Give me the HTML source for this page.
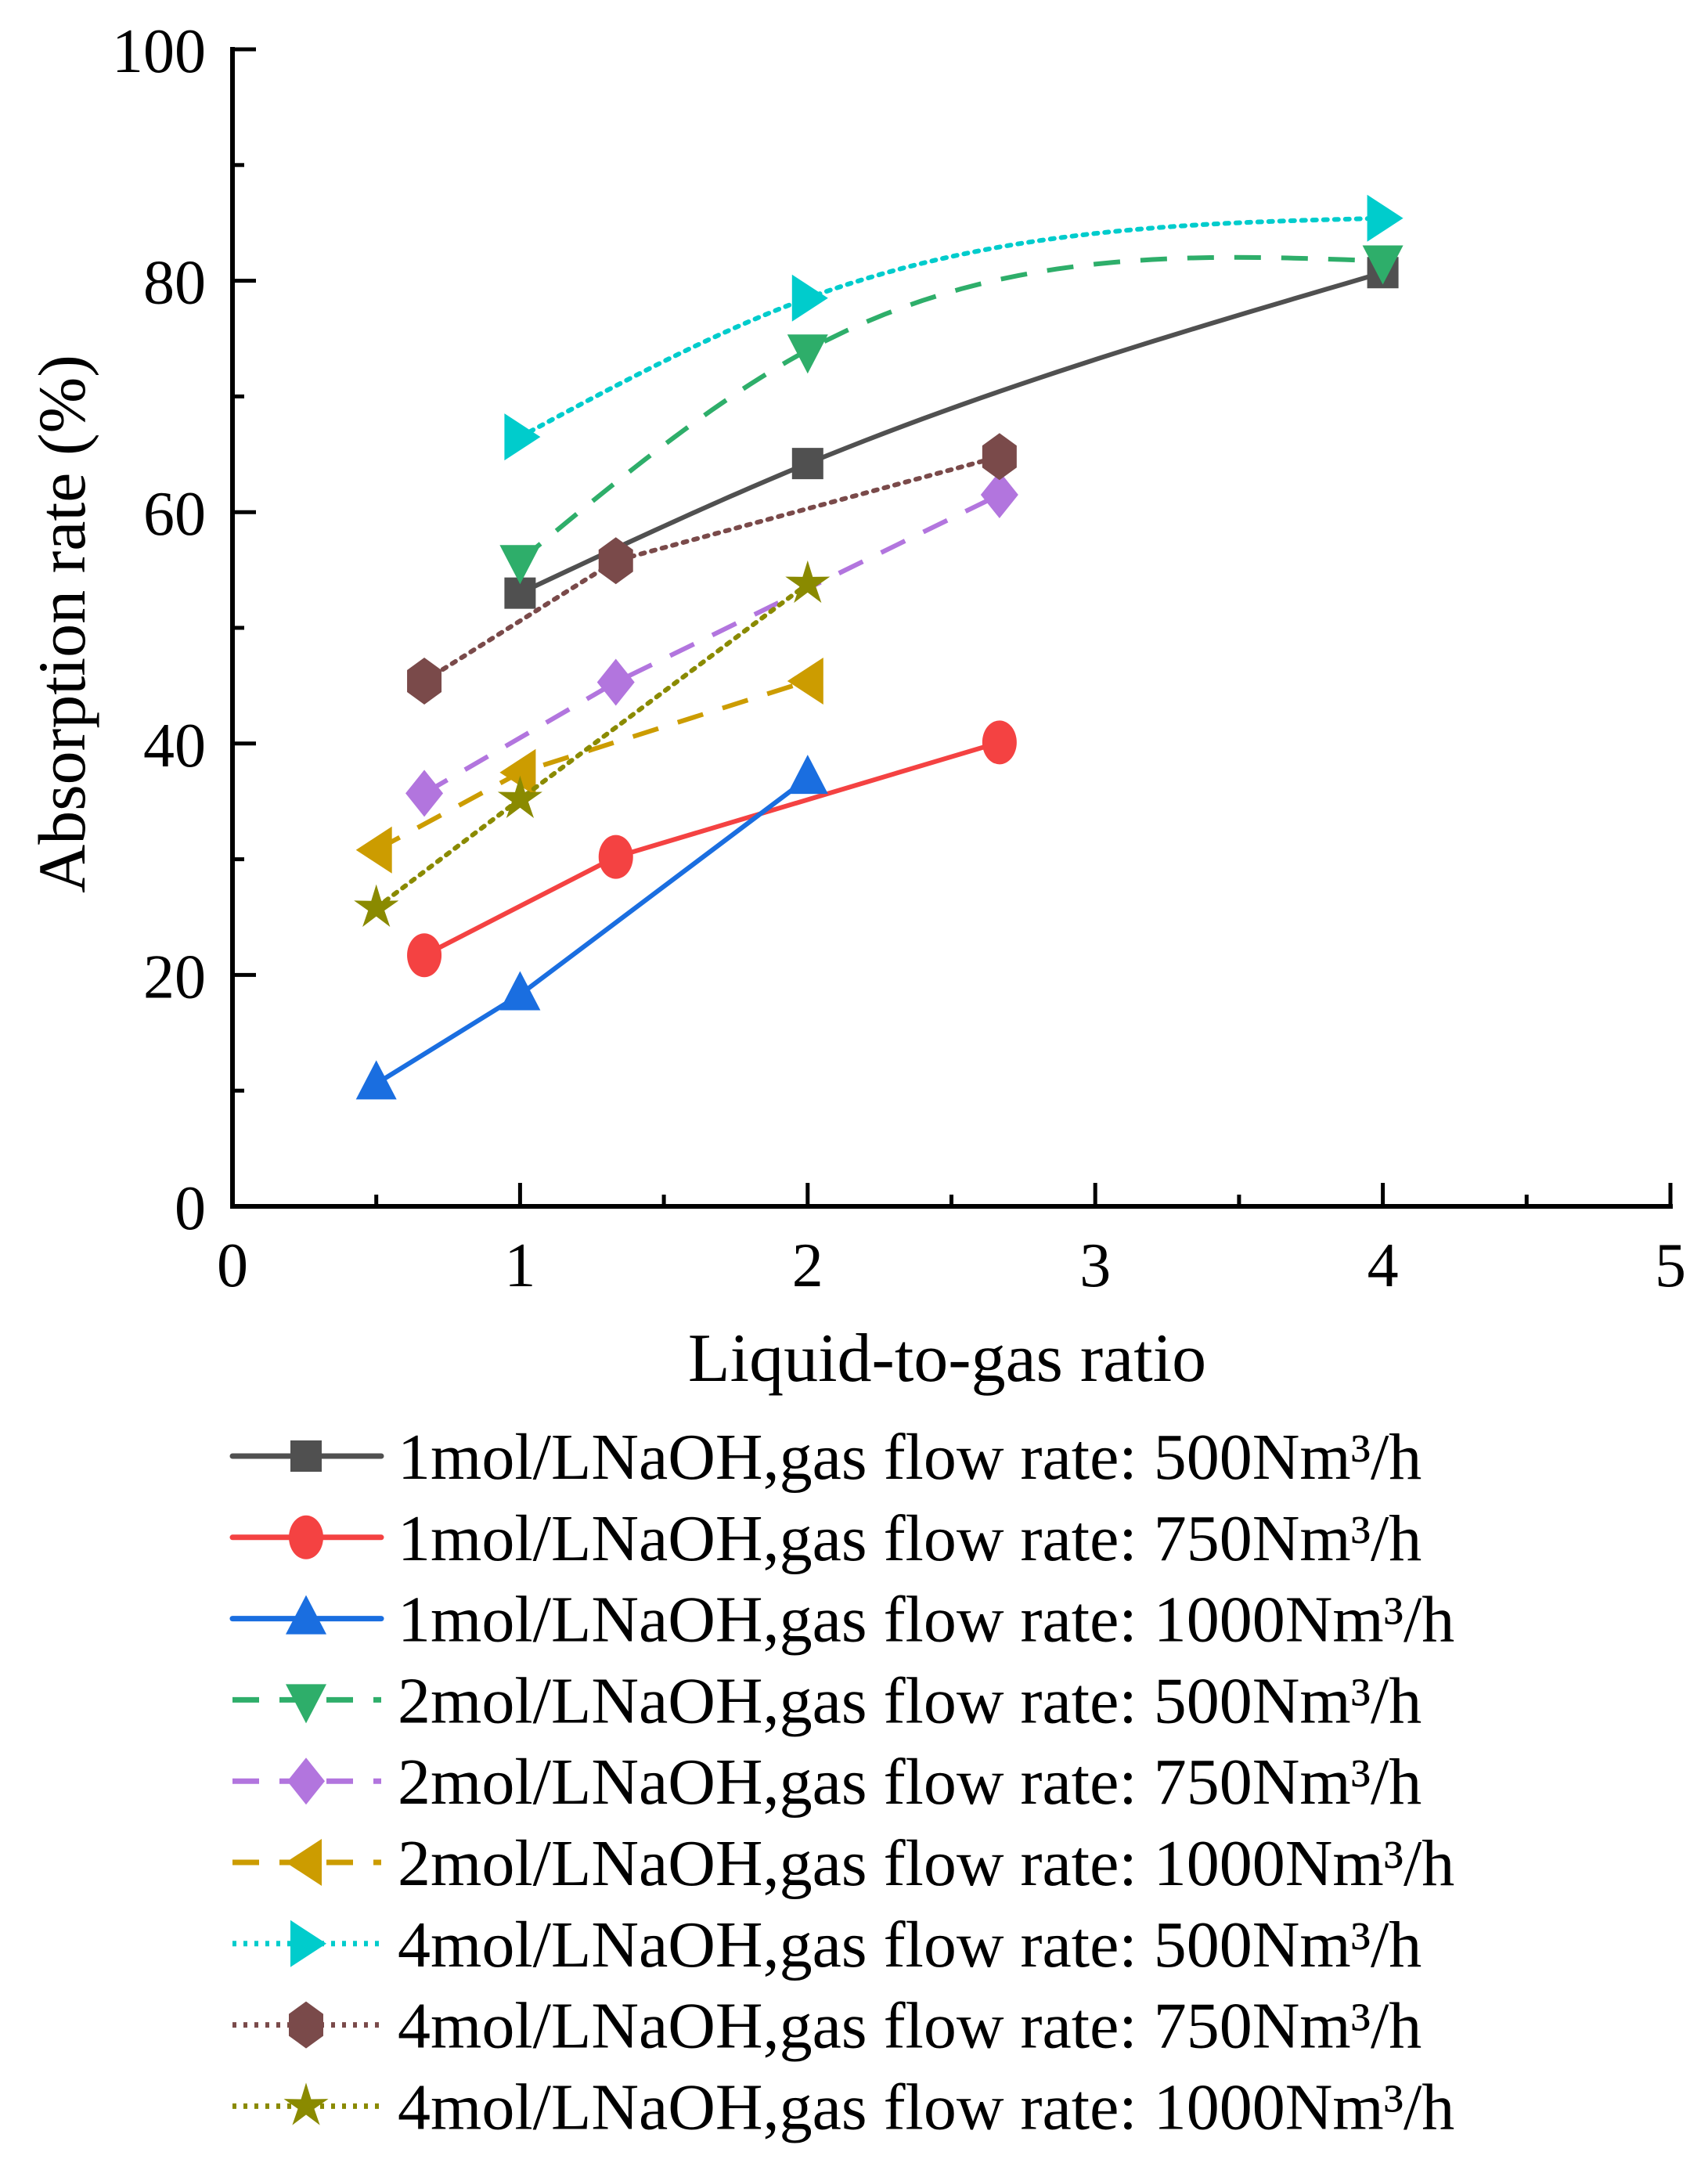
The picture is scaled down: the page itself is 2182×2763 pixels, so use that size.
<!DOCTYPE html>
<html><head><meta charset="utf-8"><style>
html,body{margin:0;padding:0;background:#fff;}
svg{display:block;font-family:"Liberation Serif",serif;}
</style></head><body>
<svg id="chart" width="2182" height="2763" viewBox="0 0 2182 2763" xmlns="http://www.w3.org/2000/svg">
<g id="axes"></g>
<g id="series"></g>
<g id="legend"></g>
<text x="1210" y="1764" font-size="88" text-anchor="middle">Liquid-to-gas ratio</text>
<text x="0" y="0" font-size="86" text-anchor="middle" transform="translate(108,797) rotate(-90)">Absorption rate (%)</text>
</svg>
<script>
const xTicks=[0,1,2,3,4,5];
const yTicks=[0,20,40,60,80,100];
const seriesNames=["1mol/LNaOH,gas flow rate: 500Nm³/h","1mol/LNaOH,gas flow rate: 750Nm³/h","1mol/LNaOH,gas flow rate: 1000Nm³/h","2mol/LNaOH,gas flow rate: 500Nm³/h","2mol/LNaOH,gas flow rate: 750Nm³/h","2mol/LNaOH,gas flow rate: 1000Nm³/h","4mol/LNaOH,gas flow rate: 500Nm³/h","4mol/LNaOH,gas flow rate: 750Nm³/h","4mol/LNaOH,gas flow rate: 1000Nm³/h"];
const xs500=[1,2,4];
const xs750=[0.667,1.333,2.667];
const xs1000=[0.5,1,2];
const y1_500=[53,64.2,80.7];
const y1_750=[21.7,30.2,40.1];
const y1_1000=[10.6,18.3,37];
const y2_500=[55.8,74,81.7];
const y2_750=[35.7,45.3,61.5];
const y2_1000=[30.8,37.5,45.4];
const y4_500=[66.5,78.5,85.4];
const y4_750=[45.4,55.8,64.8];
const y4_1000=[25.8,35.2,53.8];

const NS="http://www.w3.org/2000/svg";
const X0=297,X1=2134,Y0=1541,Y1=63;
const sx=v=>X0+(X1-X0)*v/5;
const sy=v=>Y0-(Y0-Y1)*v/100;
function mk(tag,attrs,parent){const e=document.createElementNS(NS,tag);for(const k in attrs)e.setAttribute(k,attrs[k]);parent.appendChild(e);return e;}
const axes=document.getElementById('axes');
const sg=document.getElementById('series');
const lg=document.getElementById('legend');
let a=mk('path',{d:`M${X0},${Y1} V${Y0} H${X1}`,fill:'none',stroke:'#000','stroke-width':6,'stroke-linecap':'square'},axes);


for(let i=0;i<xTicks.length;i++){
 const v=xTicks[i];
 if(i>0){const t=mk('line',{x1:sx(v),x2:sx(v),y1:Y0,y2:Y0-30,stroke:'#000','stroke-width':5},axes);
 
 }
 if(i<xTicks.length-1){const m=mk('line',{x1:sx(v+0.5),x2:sx(v+0.5),y1:Y0,y2:Y0-15,stroke:'#000','stroke-width':5},axes);
 
 }
 const l=mk('text',{x:sx(v),y:1643,'font-size':80,'text-anchor':'middle'},axes);l.textContent=v;
 
 
}
for(let i=0;i<yTicks.length;i++){
 const v=yTicks[i];
 if(i>0){const t=mk('line',{x1:X0,x2:X0+30,y1:sy(v),y2:sy(v),stroke:'#000','stroke-width':5},axes);
 
 }
 if(i<yTicks.length-1){const m=mk('line',{x1:X0,x2:X0+15,y1:sy(v+10),y2:sy(v+10),stroke:'#000','stroke-width':5},axes);
 
 }
 const l=mk('text',{x:263,y:sy(v)+29,'font-size':80,'text-anchor':'end'},axes);l.textContent=v;
 
 
}
const colors=['#505050','#f44242','#1a6ee0','#2eae6a','#b275de','#cc9c00','#00cccc','#7a4a4a','#8a8a00'];
const dash=['','','','34 26','34 26','34 26','5 9','5 9','5 9'];
const shapes=['square','circle','up','down','diamond','left','right','hex','star'];
const smooth=[true,false,false,true,false,false,true,false,false];
const xsets=[xs500,xs750,xs1000,xs500,xs750,xs1000,xs500,xs750,xs1000];
const ysets=[y1_500,y1_750,y1_1000,y2_500,y2_750,y2_1000,y4_500,y4_750,y4_1000];
function spline(px,py){
 const n=px.length;
 const h=[],al=[],l=[1],mu=[0],z=[0],c=new Array(n).fill(0),b=[],d=[];
 for(let i=0;i<n-1;i++)h.push(px[i+1]-px[i]);
 for(let i=1;i<n-1;i++)al[i]=3/h[i]*(py[i+1]-py[i])-3/h[i-1]*(py[i]-py[i-1]);
 for(let i=1;i<n-1;i++){l[i]=2*(px[i+1]-px[i-1])-h[i-1]*mu[i-1];mu[i]=h[i]/l[i];z[i]=(al[i]-h[i-1]*z[i-1])/l[i];}
 for(let j=n-2;j>=0;j--){c[j]=(z[j]||0)-mu[j]*c[j+1];b[j]=(py[j+1]-py[j])/h[j]-h[j]*(c[j+1]+2*c[j])/3;d[j]=(c[j+1]-c[j])/(3*h[j]);}
 let s=`M${px[0]},${py[0]}`;
 for(let j=0;j<n-1;j++)for(let k=1;k<=30;k++){const t=h[j]*k/30;s+=`L${px[j]+t},${py[j]+b[j]*t+c[j]*t*t+d[j]*t*t*t}`;}
 return s;
}
function poly(px,py){return px.map((x,i)=>(i?'L':'M')+x+','+py[i]).join('');}
function marker(shape,cx,cy,r,col,parent){
 let e;
 if(shape==='square')e=mk('rect',{x:cx-r,y:cy-r,width:2*r,height:2*r,fill:col},parent);
 else if(shape==='circle')e=mk('ellipse',{cx,cy,rx:r*1.1,ry:r*1.4,fill:col},parent);
 else{let p=[];
  if(shape==='up')p=[[0,-1.5],[1.3,1],[-1.3,1]];
  if(shape==='down')p=[[0,1.5],[1.3,-1],[-1.3,-1]];
  if(shape==='left')p=[[-1.3,0],[1,-1.5],[1,1.5]];
  if(shape==='right')p=[[1.3,0],[-1,-1.5],[-1,1.5]];
  if(shape==='diamond')p=[[0,-1.5],[1.2,0],[0,1.5],[-1.2,0]];
  if(shape==='hex')p=[[0,-1.5],[1.1,-0.7],[1.1,0.7],[0,1.5],[-1.1,0.7],[-1.1,-0.7]];
  if(shape==='star'){for(let k=0;k<10;k++){const ang=-Math.PI/2+k*Math.PI/5,rr=k%2?0.55:1.5;p.push([rr*Math.cos(ang),rr*Math.sin(ang)]);}}
  e=mk('polygon',{points:p.map(q=>`${cx+q[0]*r},${cy+q[1]*r}`).join(' '),fill:col},parent);}
 return e;
}
for(let s=0;s<9;s++){
 const g=mk('g',{},sg);
 
 
 const px=xsets[s].map(sx),py=ysets[s].map(sy);
 const ln=mk('path',{d:smooth[s]?spline(px,py):poly(px,py),fill:'none',stroke:colors[s],'stroke-width':6,'stroke-dasharray':dash[s],'stroke-linecap':s>=6?'round':'butt'},g);
 
 
 for(let i=0;i<px.length;i++){
  const m=marker(shapes[s],px[i],py[i],20,colors[s],g);
  
  
 }
 const ly=1860+103.8*s;
 const le=mk('g',{},lg);
 
 
 mk('line',{x1:297,x2:487,y1:ly,y2:ly,stroke:colors[s],'stroke-width':7,'stroke-dasharray':s<3?'':(s<6?'34 26':'5 9'),'stroke-linecap':s<3?'round':'butt'},le);
 marker(shapes[s],391,ly,20,colors[s],le);
 const t=mk('text',{x:508,y:ly+29,'font-size':84},le);
 t.textContent=seriesNames[s];
}
</script>
</body></html>
